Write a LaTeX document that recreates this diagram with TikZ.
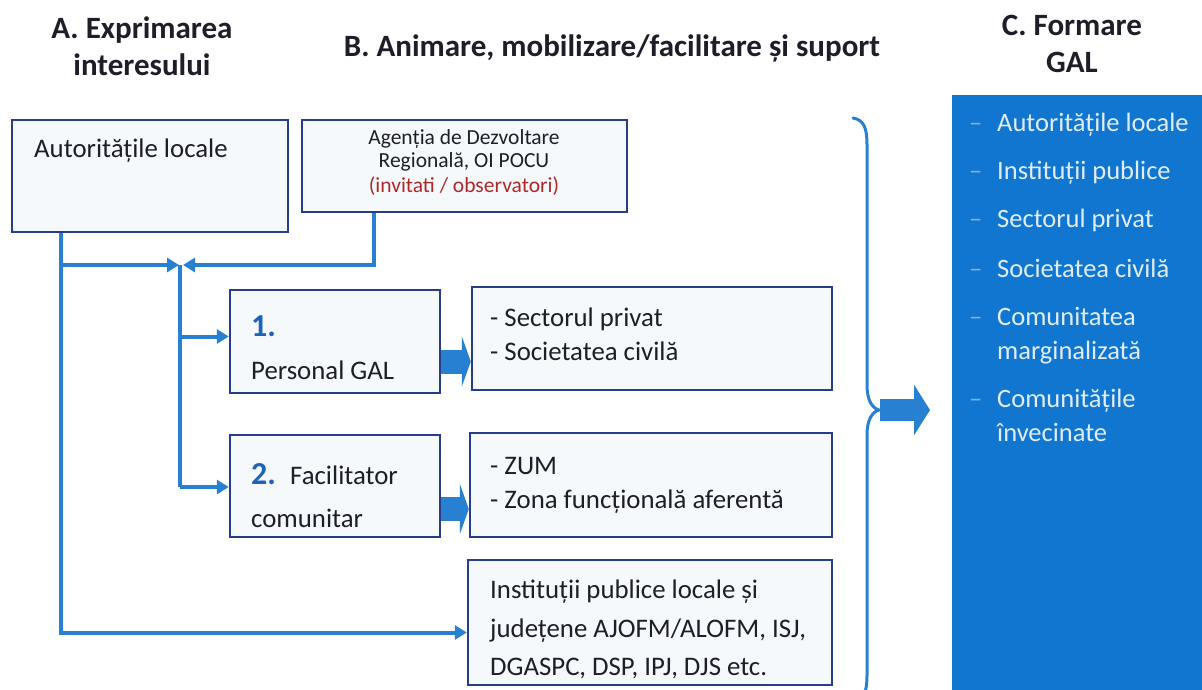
\documentclass[tikz,border=0pt]{standalone}
\usepackage{fontspec}
\setmainfont{Carlito}
\usetikzlibrary{arrows.meta}
\definecolor{boxdraw}{RGB}{40,60,140}
\definecolor{boxfill}{RGB}{245,249,252}
\definecolor{conncol}{RGB}{40,128,210}
\definecolor{cfill}{RGB}{16,118,208}
\definecolor{dashcol}{RGB}{125,178,228}
\definecolor{ctext}{RGB}{225,236,248}
\definecolor{txt}{RGB}{30,30,40}
\definecolor{redtxt}{RGB}{175,40,40}
\definecolor{numblue}{RGB}{30,100,185}
\begin{document}
\begin{tikzpicture}[x=1pt,y=-1pt,
  box/.style={draw=boxdraw,fill=boxfill,line width=2.4pt,inner sep=0pt},
  conn/.style={draw=conncol,line width=4pt},
  tip/.style={-{Triangle[length=12pt,width=14pt]}},
  blockarr/.style={draw=conncol,line width=24pt,-{Triangle[length=9pt,width=50pt]}},
  t/.style={inner sep=0pt,anchor=base west,text=txt,font=\fontsize{26.8}{30}\selectfont},
  ts/.style={inner sep=0pt,anchor=base,text=txt,font=\fontsize{21.5}{24}\selectfont},
  ttl/.style={inner sep=0pt,anchor=base,text=txt,font=\fontsize{31}{34}\selectfont\bfseries},
  num/.style={inner sep=0pt,anchor=base west,text=numblue,font=\fontsize{32}{34}\selectfont\bfseries},
  ci/.style={inner sep=0pt,anchor=base west,text=ctext,font=\fontsize{26.5}{30}\selectfont},
  cd/.style={inner sep=0pt,anchor=base west,text=dashcol,font=\fontsize{26.5}{30}\selectfont},
]
\clip (0,0) rectangle (1202,689);
\fill[white] (0,0) rectangle (1202,689);

% titles
\node[ttl] (tA1) at (142,38) {A. Exprimarea};
\node[ttl] (tA2) at (142,75) {interesului};
\node[ttl] (tB) at (612,56) {B. Animare, mobilizare/facilitare și suport};
\node[ttl] (tC1) at (1072,35) {C. Formare};
\node[ttl] (tC2) at (1072,72) {GAL};

% boxes
\node[box,minimum width=276pt,minimum height=112pt] (aut) at (150,176) {};
\node[box,minimum width=325pt,minimum height=92pt] (adr) at (464.5,166) {};
\node[box,minimum width=210pt,minimum height=103pt] (p1) at (335,341.5) {};
\node[box,minimum width=360pt,minimum height=103pt] (sp) at (652,338.5) {};
\node[box,minimum width=210pt,minimum height=102pt] (p2) at (335,486) {};
\node[box,minimum width=362pt,minimum height=104pt] (zum) at (651,485) {};
\node[box,minimum width=364pt,minimum height=125pt] (inst) at (650,622.5) {};

% box texts
\node[t] (autT) at (34,157) {Autoritățile locale};
\node[ts] (adr1) at (464,144) {Agenția de Dezvoltare};
\node[ts] (adr2) at (464,167) {Regională, OI POCU};
\node[ts,text=redtxt] (adr3) at (464,192) {(invitati / observatori)};
\node[num] (n1) at (251,336) {1.};
\node[t] (p1T) at (251,379) {Personal GAL};
\node[num] (n2) at (251,484) {2.};
\node[t] (p2a) at (290,484) {Facilitator};
\node[t] (p2b) at (251,527) {comunitar};
\node[t] (sp1) at (490,326) {- Sectorul privat};
\node[t] (sp2) at (490,360) {- Societatea civilă};
\node[t] (zum1) at (490,474) {- ZUM};
\node[t] (zum2) at (490,508) {- Zona funcțională aferentă};
\node[t] (in1) at (490,598) {Instituții publice locale și};
\node[t] (in2) at (490,637) {județene AJOFM/ALOFM, ISJ,};
\node[t] (in3) at (490,675) {DGASPC, DSP, IPJ, DJS etc.};

% connectors
\coordinate (aS) at ([xshift=50pt]aut.south west);
\coordinate (aj) at (62,265);
\coordinate (j) at (180,265);
\coordinate (jb) at (180,487);
\coordinate (dS) at ([xshift=73pt]adr.south west);
\coordinate (p1in) at ([yshift=5pt]p1.west);
\coordinate (instin) at ([yshift=-10pt]inst.west);
\draw[conn,tip] (aS) |- (instin);
\draw[conn,tip] (aj) -- ([xshift=-1pt]j);
\draw[conn,tip] (dS) |- ([xshift=3pt]j);
\draw[conn] (j) -- (jb);
\draw[conn,tip] (j |- p1in) -- (p1in);
\draw[conn,tip] (jb) -- (jb -| p2.west);

% block arrows
\coordinate (b1) at ([yshift=-20pt]p1.east);
\coordinate (b2) at ([yshift=-23pt]p2.east);
\draw[blockarr] (b1) -- (b1 -| sp.west);
\draw[blockarr] (b2) -- (b2 -| zum.west);

% brace
\coordinate (brT) at (853,118);
\coordinate (brM) at (879,410);
\coordinate (brB) at (853,702);
\draw[draw=conncol,line width=3pt,line cap=round]
  (brT) .. controls (864,120) and (867,128) .. (867,145)
  -- (867,385) .. controls (867,400) and (872,408) .. (brM)
  .. controls (872,412) and (867,420) .. (867,435)
  -- (867,675) .. controls (867,692) and (864,700) .. (brB);
\coordinate (cW) at (952,410);
\coordinate (brA) at ([xshift=1pt]brM);
\coordinate (cA) at ([xshift=-22pt]cW);
\draw[draw=conncol,line width=22pt,-{Triangle[length=16pt,width=50pt]}] (brA) -- (cA);

% C box
\node[fill=cfill,inner sep=0pt,minimum width=260pt,minimum height=610pt,anchor=north west] (cbox) at (952,95) {};
\foreach \y/\s [count=\i] in {131/Autoritățile locale,179/Instituții publice,227/Sectorul privat,277/Societatea civilă,325/Comunitatea,407/Comunitățile}{
  \node[cd] (cd\i) at (969,\y) {–};
  \node[ci] (ci\i) at (997,\y) {\s};
}
\node[ci] (ci5b) at (997,359) {marginalizată};
\node[ci] (ci6b) at (997,441) {învecinate};
\end{tikzpicture}
\end{document}
